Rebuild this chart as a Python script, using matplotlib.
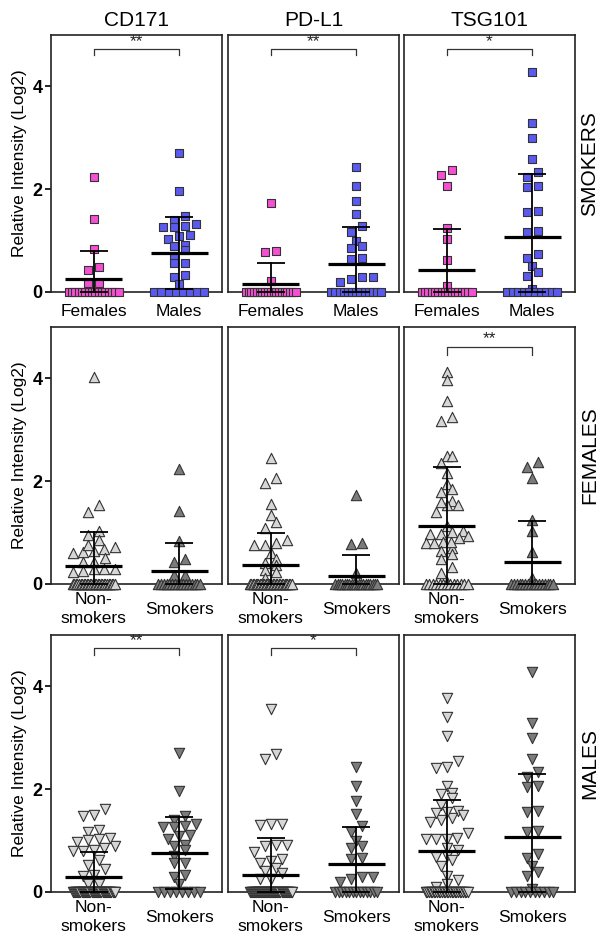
import numpy as np
import matplotlib
matplotlib.use('Agg')
import matplotlib.pyplot as plt

plt.rcParams['font.family'] = ['Liberation Sans', 'DejaVu Sans']

# ---------------- data ----------------
proteins = ['CD171', 'PD-L1', 'TSG101']
row_labels = ['SMOKERS', 'FEMALES', 'MALES']
group_labels = [['Females', 'Males'],
                ['Non-\nsmokers', 'Smokers'],
                ['Non-\nsmokers', 'Smokers']]
ytick_vals = [0, 2, 4]
ylabel_text = 'Relative Intensity (Log2)'

# smokers, by sex
cd171_f_smk = [2.23, 1.42, 0.83, 0.49, 0.43, 0.18, 0.17,
               0, 0, 0, 0, 0, 0, 0, 0, 0, 0, 0, 0, 0, 0, 0, 0]
cd171_m_smk = [2.71, 1.96, 1.47, 1.40, 1.29, 1.26, 1.27, 1.32, 1.08, 1.10,
               1.04, 0.91, 0.89, 0.82, 0.70, 0.56, 0.57, 0.33, 0.29, 0.15,
               0, 0, 0, 0, 0, 0, 0, 0]
pdl1_f_smk = [1.73, 0.80, 0.77, 0.22,
              0, 0, 0, 0, 0, 0, 0, 0, 0, 0, 0, 0, 0, 0, 0, 0, 0, 0, 0]
pdl1_m_smk = [2.43, 2.06, 1.78, 1.52, 1.29, 1.16, 0.99, 0.90, 0.85, 0.64,
              0.67, 0.25, 0.30, 0.30, 0.19,
              0, 0, 0, 0, 0, 0, 0, 0, 0, 0, 0, 0, 0]
tsg_f_smk = [2.38, 2.28, 2.07, 1.24, 1.03, 0.62, 0.12,
             0, 0, 0, 0, 0, 0, 0, 0, 0, 0, 0, 0, 0, 0, 0, 0]
tsg_m_smk = [4.28, 3.28, 3.00, 2.58, 2.34, 2.24, 2.07, 2.05, 1.56, 1.58,
             1.18, 1.17, 0.66, 0.74, 0.51, 0.38, 0.32, 0.05,
             0, 0, 0, 0, 0, 0, 0, 0, 0, 0]

# non-smokers, by sex
cd171_f_non = [4.02, 1.53, 1.40, 1.04, 0.95, 0.85, 0.72, 0.69, 0.64, 0.61,
               0.62, 0.76, 0.50, 0.43, 0.43, 0.29, 0.25, 0.23, 0.29, 0.29,
               0, 0, 0, 0, 0, 0, 0, 0, 0, 0, 0, 0, 0, 0,
               0, 0, 0, 0, 0, 0, 0, 0, 0, 0, 0, 0, 0, 0]
pdl1_f_non = [2.45, 2.06, 1.96, 1.56, 1.34, 1.20, 1.09, 0.85, 0.76, 0.76,
              0.80, 0.60, 0.41, 0.49, 0.27, 0.36, 0.24, 0.11,
              0, 0, 0, 0, 0, 0, 0, 0, 0, 0, 0, 0, 0, 0, 0,
              0, 0, 0, 0, 0, 0, 0, 0, 0, 0, 0, 0, 0, 0, 0]
tsg_f_non = [4.12, 3.97, 3.57, 3.17, 3.24, 2.50, 2.49, 2.36, 2.16, 1.94,
             1.84, 1.79, 1.61, 1.53, 1.53, 1.60, 1.40, 1.13, 1.03, 0.97,
             0.89, 0.93, 0.97, 1.02, 0.82, 0.80, 0.80, 0.71, 0.82, 0.64,
             0.58, 0.48, 0.33, 0.22, 0.03,
             0, 0, 0, 0, 0, 0, 0, 0, 0, 0, 0, 0, 0]
cd171_m_non = [1.61, 1.50, 1.48, 1.17, 1.20, 1.04, 0.98, 0.89, 1.01, 1.05,
               0.81, 0.80, 0.79, 0.85, 0.63, 0.52, 0.44, 0.33, 0.31, 0.16,
               0.16,
               0, 0, 0, 0, 0, 0, 0, 0, 0, 0, 0, 0, 0, 0, 0, 0, 0, 0, 0, 0,
               0, 0, 0, 0, 0, 0, 0, 0, 0, 0, 0, 0, 0, 0, 0, 0, 0, 0, 0]
pdl1_m_non = [3.56, 2.69, 2.59, 1.33, 1.30, 1.32, 0.91, 0.89, 0.91, 0.78,
              0.65, 0.57, 0.60, 0.46, 0.41, 0.26, 0.26, 0.36,
              0, 0, 0, 0, 0, 0, 0, 0, 0, 0, 0, 0, 0, 0, 0, 0, 0, 0, 0, 0, 0,
              0, 0, 0, 0, 0, 0, 0, 0, 0, 0, 0, 0, 0, 0, 0, 0, 0, 0, 0, 0, 0]
tsg_m_non = [3.77, 3.41, 3.04, 2.54, 2.44, 2.42, 2.06, 1.92, 1.82, 1.91,
             1.69, 1.58, 1.50, 1.40, 1.37, 1.43, 1.56, 1.53, 1.06, 1.04,
             1.04, 1.04, 1.15, 0.86, 0.70, 0.62, 0.68, 0.81, 0.50, 0.31,
             0.23, 0.15, 0.10,
             0, 0, 0, 0, 0, 0, 0, 0, 0, 0, 0, 0, 0, 0,
             0, 0, 0, 0, 0, 0, 0, 0, 0, 0, 0, 0, 0]

panels = [
    [[cd171_f_smk, cd171_m_smk], [pdl1_f_smk, pdl1_m_smk], [tsg_f_smk, tsg_m_smk]],
    [[cd171_f_non, cd171_f_smk], [pdl1_f_non, pdl1_f_smk], [tsg_f_non, tsg_f_smk]],
    [[cd171_m_non, cd171_m_smk], [pdl1_m_non, pdl1_m_smk], [tsg_m_non, tsg_m_smk]],
]
significance = {(0, 0): '**', (0, 1): '**', (0, 2): '*',
                (1, 2): '**', (2, 0): '**', (2, 1): '*'}

# ---------------- style ----------------
row_colors = [['#F64FD4', '#5A5AF0'], ['#D6D6D6', '#7B7B7B'], ['#D6D6D6', '#7B7B7B']]
row_markers = ['s', '^', 'v']
row_msize = [38, 55, 55]
row_max_half = [25, 21, 21]
bracket_y = [(4.72, 4.61), (4.62, 4.46), (4.74, 4.62)]

W, H = 603, 936
col_left = [51, 228, 404]
ax_w = 171
row_top = [35, 327, 635]
ax_h = 257
XLIM = (-0.5, 1.5)
YLIM = (0, 5)
px_x = ax_w / (XLIM[1] - XLIM[0])
px_y = ax_h / (YLIM[1] - YLIM[0])


def row_offsets(vals, row_px, step_px, max_half_px):
    """Prism-like scatter: points in the same value band sit side by side."""
    vals = np.asarray(vals, float)
    offs = np.zeros(len(vals))
    zero_idx = [i for i in range(len(vals)) if vals[i] <= 0]
    rows = [zero_idx] if zero_idx else []
    order = [i for i in np.argsort(vals, kind='stable') if vals[i] > 0]
    cur = []
    start = None
    for i in order:
        y = vals[i] * px_y
        if start is None or y - start > row_px:
            if cur:
                rows.append(cur)
            cur = [i]
            start = y
        else:
            cur.append(i)
    if cur:
        rows.append(cur)
    for rw in rows:
        n = len(rw)
        if n == 1:
            continue
        step = min(step_px, 2 * max_half_px / (n - 1))
        for k, i in enumerate(rw):
            offs[i] = (k - (n - 1) / 2) * step
    return offs / px_x


fig = plt.figure(figsize=(W / 100, H / 100), dpi=100)

for r in range(3):
    for c in range(3):
        ax = fig.add_axes([col_left[c] / W, 1 - (row_top[r] + ax_h) / H,
                           ax_w / W, ax_h / H])
        ax.set_xlim(*XLIM)
        ax.set_ylim(*YLIM)
        for sp in ax.spines.values():
            sp.set_linewidth(1.2)
            sp.set_color('#222222')
        groups = panels[r][c]
        for g, vals in enumerate(groups):
            vals = np.asarray(vals, float)
            offs = row_offsets(vals, 7.0, 11.0, row_max_half[r])
            ax.scatter(g + offs, vals, s=row_msize[r], marker=row_markers[r],
                       c=row_colors[r][g], edgecolors='#333333', linewidths=0.8,
                       clip_on=False, zorder=3)
            m = vals.mean()
            sd = vals.std(ddof=1)
            lo = max(m - sd, 0)
            hi = m + sd
            ax.plot([g - 0.335, g + 0.335], [m, m], color='black', lw=2.3,
                    solid_capstyle='butt', zorder=5, clip_on=False)
            ax.plot([g, g], [lo, hi], color='black', lw=1.3, zorder=5, clip_on=False)
            for yy in (lo, hi):
                ax.plot([g - 0.165, g + 0.165], [yy, yy], color='black', lw=1.3,
                        solid_capstyle='butt', zorder=5, clip_on=False)
        if (r, c) in significance:
            yt, yl = bracket_y[r]
            ax.plot([0, 0, 1, 1], [yl, yt, yt, yl], color='#333333', lw=0.9, zorder=4)
            ax.text(0.5, yt + 0.0, significance[(r, c)], ha='center', va='bottom',
                    fontsize=12.5, color='#222222')
        # x tick labels
        ax.set_xticks([0, 1])
        ax.set_xticklabels(group_labels[r], fontsize=12.5, linespacing=1.3)
        pad = 14.0 if r == 0 else 18.0
        ax.tick_params(axis='x', length=0, pad=pad)
        for lab in ax.get_xticklabels():
            lab.set_va('center')
        if c == 0:
            ax.set_yticks(ytick_vals)
            ax.set_yticklabels([str(v) for v in ytick_vals], fontsize=13,
                               fontweight='bold')
            ax.tick_params(axis='y', length=4, width=1.2, pad=2, direction='out')
            fig.text(20 / W, 1 - (row_top[r] + ax_h / 2) / H, ylabel_text,
                     rotation=90, ha='center', va='center', fontsize=12.5)
        else:
            ax.set_yticks([])
        if r == 0:
            fig.text((col_left[c] + ax_w / 2) / W, 1 - 20.5 / H, proteins[c],
                     ha='center', va='center', fontsize=15)
    fig.text(590 / W, 1 - (row_top[r] + ax_h / 2) / H, row_labels[r],
             rotation=90, ha='center', va='center', fontsize=15)

fig.savefig('out.png', dpi=100, facecolor='white')
